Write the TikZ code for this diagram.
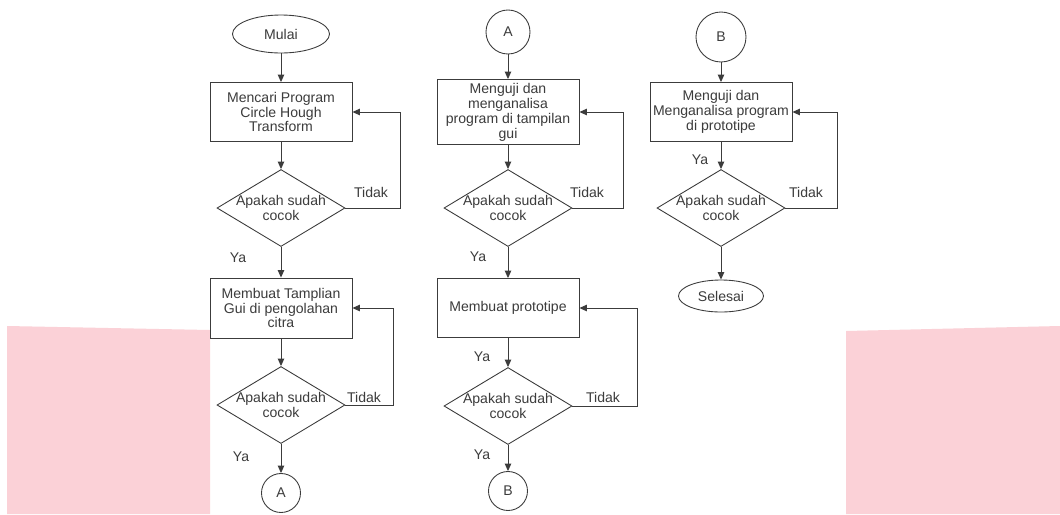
\documentclass[tikz,border=0pt]{standalone}
\usepackage{fontspec}
\setmainfont{Liberation Sans}
\usetikzlibrary{shapes.geometric,arrows.meta}
\definecolor{pinkbg}{HTML}{FBD1D7}
\definecolor{ink}{HTML}{3C3C3C}
\tikzset{
  base/.style={draw=ink, line width=.5pt, text=ink, align=center,
    font=\fontsize{8}{8.5}\selectfont, inner sep=1pt},
  proc/.style={base, rectangle, minimum width=28.4mm, minimum height=11.8mm},
  decision/.style={base, diamond, minimum width=25.6mm, minimum height=15.4mm, inner sep=0pt,
    label={[lbl, align=center]center:Apakah sudah\\cocok}},
  term/.style={base, ellipse},
  conn/.style={base, circle, inner sep=0pt},
  lbl/.style={text=ink, font=\fontsize{8}{8.5}\selectfont, inner sep=0pt},
  flow/.style={draw=ink, line width=.5pt, -{Triangle[length=1.5mm,width=1.3mm]}},
}
\begin{document}
\begin{tikzpicture}[x=0.2mm,y=-0.2mm]
  \fill[white] (0,0) rectangle (1060,514);
  \useasboundingbox (0,0) rectangle (1060,514);
  \fill[pinkbg] (7,326) -- (210,330) -- (210,514) -- (7,514) -- cycle;
  \fill[pinkbg] (846,331) -- (1060,326) -- (1060,514) -- (846,514) -- cycle;

  % kolom 1
  \node[term, minimum width=19.4mm, minimum height=7.6mm] (mulai) at (281,34) {Mulai};
  \node[proc] (cari) at (281,112) {Mencari Program\\Circle Hough\\Transform};
  \node[decision] (cek1) at (281,208) {};
  \node[proc, minimum height=12mm] (gui) at (281,308) {Membuat Tamplian\\Gui di pengolahan\\citra};
  \node[decision] (cek2) at (281,405) {};
  \node[conn, minimum size=7.8mm] (a1) at (281,493) {A};
  \node[lbl] (tidak1) at (371,192) {Tidak};
  \node[lbl] (ya1) at (238,258) {Ya};
  \node[lbl] (tidak2) at (364,397) {Tidak};
  \node[lbl] (ya2) at (241,457) {Ya};

  \draw[flow] (mulai) -- (cari);
  \draw[flow] (cari) -- (cek1);
  \draw[flow] (cek1) -- (gui);
  \draw[flow] (gui) -- (cek2);
  \draw[flow] (cek2) -- (a1);
  \draw[flow] (cek1.east) -- ++(55,0) |- (cari.east);
  \draw[flow] (cek2.east) -- ++(48,0) |- (gui.east);

  % kolom 2
  \node[conn, minimum size=8.8mm] (a2) at (508,32) {A};
  \node[proc, minimum height=13mm] (uji1) at (508,112) {Menguji dan\\menganalisa\\program di tampilan\\gui};
  \node[decision] (cek3) at (508,208) {};
  \node[proc] (proto) at (508,308) {Membuat prototipe};
  \node[decision] (cek4) at (508,406) {};
  \node[conn, minimum size=7.8mm] (b1) at (508,491) {B};
  \node[lbl] (tidak3) at (587,192) {Tidak};
  \node[lbl] (ya3) at (478,257) {Ya};
  \node[lbl] (ya4) at (482,357) {Ya};
  \node[lbl] (tidak4) at (603,397) {Tidak};
  \node[lbl] (ya5) at (482,455) {Ya};

  \draw[flow] (a2) -- (uji1);
  \draw[flow] (uji1) -- (cek3);
  \draw[flow] (cek3) -- (proto);
  \draw[flow] (proto) -- (cek4);
  \draw[flow] (cek4) -- (b1);
  \draw[flow] (cek3.east) -- ++(51,0) |- (uji1.east);
  \draw[flow] (cek4.east) -- ++(65,0) |- (proto.east);

  % kolom 3
  \node[conn, minimum size=10mm] (b2) at (721,37) {B};
  \node[proc] (uji2) at (721,112) {Menguji dan\\Menganalisa program\\di prototipe};
  \node[decision] (cek5) at (721,208) {};
  \node[term, minimum width=17mm, minimum height=6.4mm] (selesai) at (721,296) {Selesai};
  \node[lbl] (ya6) at (700,160) {Ya};
  \node[lbl] (tidak5) at (806,192) {Tidak};

  \draw[flow] (b2) -- (uji2);
  \draw[flow] (uji2) -- (cek5);
  \draw[flow] (cek5) -- (selesai);
  \draw[flow] (cek5.east) -- ++(52,0) |- (uji2.east);
\end{tikzpicture}
\end{document}
